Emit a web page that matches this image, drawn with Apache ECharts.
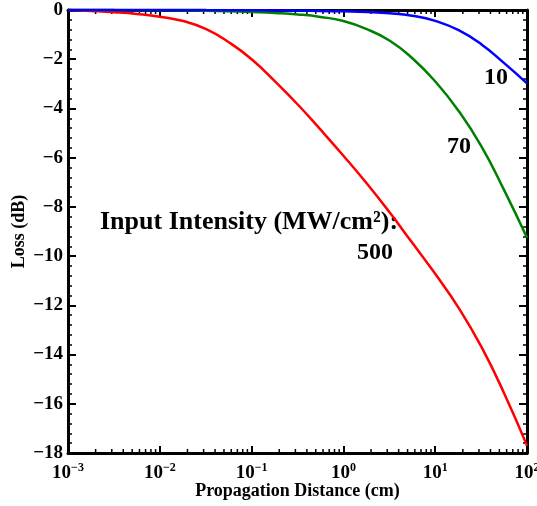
<!DOCTYPE html>
<html><head><meta charset="utf-8">
<script src="https://cdn.jsdelivr.net/npm/echarts@6/dist/echarts.min.js"></script>
<style>html,body{margin:0;padding:0;background:#fff}#c{width:537px;height:506px}</style>
</head><body><div id="c"></div>
<script>
// Propagation distance (cm), log-spaced samples
const distance = [0.001, 0.0018, 0.0032, 0.0056, 0.01, 0.018, 0.032, 0.056, 0.1, 0.18, 0.32, 0.56, 1, 1.8, 3.2, 5.6, 10, 18, 32, 56, 100];
// Loss (dB) for input intensities 10, 70, 500 MW/cm^2
const loss10 = [0, 0, 0, 0, 0, 0, -0.005, -0.008, -0.012, -0.018, -0.027, -0.04, -0.055, -0.08, -0.13, -0.23, -0.44, -0.82, -1.4, -2.15, -2.98];
const loss70 = [0, 0, -0.005, -0.008, -0.01, -0.02, -0.03, -0.05, -0.08, -0.12, -0.18, -0.28, -0.45, -0.78, -1.25, -1.95, -2.9, -4.1, -5.55, -7.3, -9.25];
const loss500 = [0, -0.04, -0.09, -0.16, -0.27, -0.45, -0.78, -1.3, -2.0, -2.9, -3.85, -4.85, -5.92, -7.05, -8.23, -9.45, -10.72, -12.1, -13.7, -15.55, -17.7];
const seriesLabels = ['10', '70', '500'];
const annotationTitle = 'Input Intensity (MW/cm²):';
const xTitle = 'Propagation Distance (cm)';
const yTitle = 'Loss (dB)';

const FONT = '"Liberation Serif", "Times New Roman", serif';
const xMin = 0.001, xMax = 100, yMin = -18, yMax = 0;

// minor log ticks (2..9 per decade)
const minorX = [];
for (let d = -3; d < 2; d++) for (let m = 2; m <= 9; m++) minorX.push(m * Math.pow(10, d));

function pair(xs, ys) { return xs.map((x, i) => [x, ys[i]]); }

const chart = echarts.init(document.getElementById('c'), null, {renderer: 'canvas'});
const axisLine = {show: true, onZero: false, lineStyle: {color: '#000', width: 3}};
const tickStyle = {color: '#000', width: 2};

const option = {
  animation: false,
  backgroundColor: '#fff',
  grid: {left: 68, right: 10, top: 10, bottom: 53, containLabel: false, outerBoundsMode: 'none'},
  xAxis: [
    {
      type: 'log', logBase: 10, min: xMin, max: xMax, position: 'bottom',
      axisLine: axisLine,
      axisTick: {show: true, inside: true, length: 7, lineStyle: tickStyle},
      minorTick: {show: false},
      splitLine: {show: false},
      axisLabel: {
        margin: 9, color: '#000', hideOverlap: false,
        formatter: v => {
          const e = Math.round(Math.log10(v));
          return '{b|10}{s|' + (e < 0 ? '\u2212' + (-e) : e) + '}';
        },
        rich: {
          b: {fontFamily: FONT, fontWeight: 'bold', fontSize: 19, color: '#000'},
          s: {fontFamily: FONT, fontWeight: 'bold', fontSize: 12, color: '#000', padding: [0, 0, 11, 0]}
        }
      },
      name: xTitle, nameLocation: 'middle', nameGap: 29, nameMoveOverlap: false,
      nameTextStyle: {fontFamily: FONT, fontWeight: 'bold', fontSize: 18, color: '#000'}
    },
    {
      type: 'log', logBase: 10, min: xMin, max: xMax, position: 'top',
      axisLine: axisLine,
      axisTick: {show: true, inside: true, length: 7, lineStyle: tickStyle},
      axisLabel: {show: false},
      splitLine: {show: false}
    }
  ],
  yAxis: [
    {
      type: 'value', min: yMin, max: yMax, interval: 2, position: 'left',
      axisLine: axisLine,
      axisTick: {show: true, inside: true, length: 8, lineStyle: tickStyle},
      minorTick: {show: true, splitNumber: 5, length: 4, lineStyle: {color: '#000', width: 1.5}},
      splitLine: {show: false},
      axisLabel: {
        margin: 5, color: '#000', fontFamily: FONT, fontWeight: 'bold', fontSize: 19,
        formatter: v => (v < 0 ? '\u2212' + (-v) : String(v))
      },
      name: yTitle, nameLocation: 'middle', nameGap: 40, nameRotate: 90, nameMoveOverlap: false,
      nameTextStyle: {fontFamily: FONT, fontWeight: 'bold', fontSize: 18, color: '#000'}
    },
    {
      type: 'value', min: yMin, max: yMax, interval: 2, position: 'right',
      axisLine: axisLine,
      axisTick: {show: true, inside: true, length: 8, lineStyle: tickStyle},
      minorTick: {show: true, splitNumber: 5, length: 4, lineStyle: {color: '#000', width: 1.5}},
      splitLine: {show: false},
      axisLabel: {show: false}
    }
  ],
  series: [
    {
      type: 'custom', xAxisIndex: 0, yAxisIndex: 0, clip: false, silent: true, z: 1,
      data: minorX.map(v => [v, yMin]),
      renderItem: (params, api) => {
        const v = api.value(0);
        const pb = api.coord([v, yMin]);
        const pt = api.coord([v, yMax]);
        return {type: 'group', children: [
          {type: 'line', shape: {x1: pb[0], y1: pb[1], x2: pb[0], y2: pb[1] - 4}, style: {stroke: '#000', lineWidth: 1.5}},
          {type: 'line', shape: {x1: pt[0], y1: pt[1], x2: pt[0], y2: pt[1] + 4}, style: {stroke: '#000', lineWidth: 1.5}}
        ]};
      }
    },
    {name: seriesLabels[2], type: 'line', data: pair(distance, loss500), showSymbol: false, smooth: 0.5, clip: false,
     lineStyle: {color: '#ff0000', width: 2.5}, z: 3},
    {name: seriesLabels[1], type: 'line', data: pair(distance, loss70), showSymbol: false, smooth: 0.5, clip: false,
     lineStyle: {color: '#008000', width: 2.5}, z: 4},
    {name: seriesLabels[0], type: 'line', data: pair(distance, loss10), showSymbol: false, smooth: 0.5, clip: false,
     lineStyle: {color: '#0000ff', width: 2.5}, z: 5}
  ],
  graphic: [
    {type: 'text', left: 100, top: 209, style: {text: annotationTitle, font: 'bold 26px ' + FONT, fill: '#000'}},
    {type: 'text', left: 357, top: 241, style: {text: seriesLabels[2], font: 'bold 24px ' + FONT, fill: '#000'}},
    {type: 'text', left: 447, top: 135, style: {text: seriesLabels[1], font: 'bold 24px ' + FONT, fill: '#000'}},
    {type: 'text', left: 484, top: 66, style: {text: seriesLabels[0], font: 'bold 24px ' + FONT, fill: '#000'}}
  ]
};
chart.setOption(option);
</script>
</body></html>
